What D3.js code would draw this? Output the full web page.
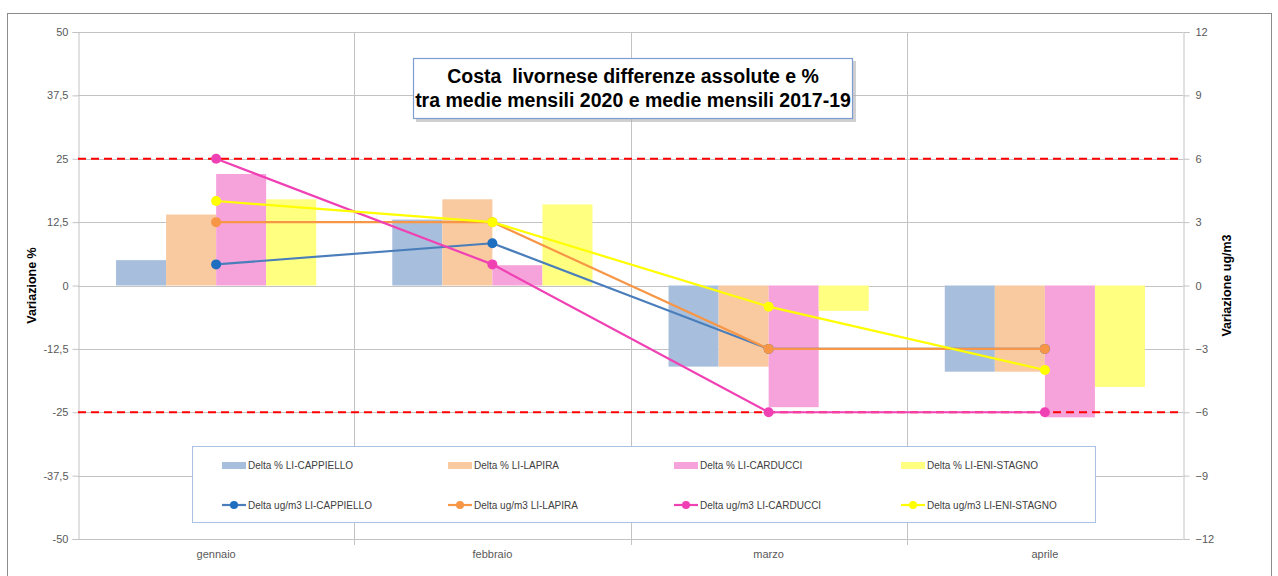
<!DOCTYPE html>
<html><head><meta charset="utf-8">
<script src="https://cdnjs.cloudflare.com/ajax/libs/d3/7.8.5/d3.min.js"></script>
<style>
body{margin:0;background:#fff;}
svg{font-family:"Liberation Sans",Arial,sans-serif;}
</style></head>
<body><svg id="c" width="1278" height="576"></svg>
<script>
const months = ["gennaio","febbraio","marzo","aprile"];
const stations = ["LI-CAPPIELLO","LI-LAPIRA","LI-CARDUCCI","LI-ENI-STAGNO"];
// Delta % (left axis)
const pctCappiello = [5, 13, -16, -17];
const pctLapira    = [14, 17, -16, -17];
const pctCarducci  = [22, 4, -24, -26];
const pctEni       = [17, 16, -5, -20];
// Delta ug/m3 (right axis)
const ugCappiello = [1, 2, -3, -3];
const ugLapira    = [3, 3, -3, -3];
const ugCarducci  = [6, 1, -6, -6];
const ugEni       = [4, 3, -1, -4];
const leftTicks  = [-50,-37.5,-25,-12.5,0,12.5,25,37.5,50];
const rightTicks = [-12,-9,-6,-3,0,3,6,9,12];
const thresholds = [25,-25];
const titleLines = ["Costa  livornese differenze assolute e %","tra medie mensili 2020 e medie mensili 2017-19"];

const pctSeries = [pctCappiello,pctLapira,pctCarducci,pctEni];
const ugSeries = [ugCappiello,ugLapira,ugCarducci,ugEni];
const barColors = ["#a7bfdc","#f9c9a0","#f7a3db","#ffff80"];
const lineColors = ["#4a7ebb","#f79646","#f041b4","#ffff00"];
const markColors = ["#1f6fc0","#f79646","#f041b4","#ffff00"];

const svg = d3.select("#c");
const L=78, R=1183, T=32, B=539;
svg.append("rect").attr("x",7.5).attr("y",13.5).attr("width",1264).attr("height",600)
  .attr("fill","#fff").attr("stroke","#8c8c8c").attr("stroke-width",1);

const x0 = d3.scaleBand().domain(months).range([L,R]).paddingInner(0).paddingOuter(0);
const x1 = d3.scaleBand().domain(stations).range([0,x0.bandwidth()]).paddingInner(0).paddingOuter(0.76);
const yL = d3.scaleLinear().domain([-50,50]).range([B,T]);
const yR = d3.scaleLinear().domain([-12,12]).range([B,T]);

// horizontal gridlines
svg.append("g").selectAll("line").data(leftTicks).join("line")
  .attr("x1",L).attr("x2",R).attr("y1",d=>Math.round(yL(d))+0.5).attr("y2",d=>Math.round(yL(d))+0.5)
  .attr("stroke","#c3c3c3").attr("stroke-width",1);
// vertical gridlines at category boundaries
svg.append("g").selectAll("line").data(months.slice(1)).join("line")
  .attr("x1",d=>Math.round(x0(d))+0.5).attr("x2",d=>Math.round(x0(d))+0.5)
  .attr("y1",T).attr("y2",B+6).attr("stroke","#c3c3c3");

// bars
pctSeries.forEach((vals,si)=>{
  svg.append("g").selectAll("rect").data(vals).join("rect")
    .attr("x",(d,i)=>x0(months[i])+x1(stations[si]))
    .attr("width",x1.bandwidth())
    .attr("y",d=>yL(Math.max(0,d)))
    .attr("height",d=>Math.abs(yL(d)-yL(0)))
    .attr("fill",barColors[si]);
});

// axes
const axL = d3.axisLeft(yL).tickValues(leftTicks).tickSize(6).tickPadding(4)
  .tickFormat(d=>String(d).replace(".",","));
const gL = svg.append("g").attr("transform",`translate(${L+0.5},0)`).call(axL);
const axR = d3.axisRight(yR).tickValues(rightTicks).tickSize(6).tickPadding(6);
const gR = svg.append("g").attr("transform",`translate(${R+0.5},0)`).call(axR);
const axB = d3.axisBottom(x0).tickSize(0).tickPadding(11);
const gB = svg.append("g").attr("transform",`translate(0,${B})`).call(axB);
gB.select(".domain").remove();
[gL,gR].forEach(g=>{
  g.select(".domain").attr("stroke","#c3c3c3");
  g.selectAll(".tick line").attr("stroke","#c3c3c3");
});
[gL,gR,gB].forEach(g=>g.selectAll("text").attr("fill","#595959").attr("font-size",11).attr("font-family","Liberation Sans, Arial, sans-serif"));
gB.selectAll("text").attr("font-size",11);

// threshold lines
svg.append("g").selectAll("line").data(thresholds).join("line")
  .attr("x1",L).attr("x2",R).attr("y1",d=>yL(d)).attr("y2",d=>yL(d))
  .attr("stroke","#ff0000").attr("stroke-width",2).attr("stroke-dasharray","8,5");

// lines
const cx = m => x0(m)+x0.bandwidth()/2;
ugSeries.forEach((vals,si)=>{
  const line = d3.line().x((d,i)=>cx(months[i])).y(d=>yR(d));
  svg.append("path").datum(vals).attr("d",line).attr("fill","none")
    .attr("stroke",lineColors[si]).attr("stroke-width",2.2);
  svg.append("g").selectAll("circle").data(vals).join("circle")
    .attr("cx",(d,i)=>cx(months[i])).attr("cy",d=>yR(d)).attr("r",5)
    .attr("fill",markColors[si]);
});

// axis titles
svg.append("text").attr("transform",`translate(36,${(T+B)/2}) rotate(-90)`)
  .attr("text-anchor","middle").attr("font-size",12.5).attr("font-weight","bold").attr("fill","#000").text("Variazione %");
svg.append("text").attr("transform",`translate(1231,${(T+B)/2}) rotate(-90)`)
  .attr("text-anchor","middle").attr("font-size",12.5).attr("font-weight","bold").attr("fill","#000").text("Variazione ug/m3");

// title box
svg.append("rect").attr("x",416).attr("y",61).attr("width",440).attr("height",61).attr("fill","#b0b0b0").attr("opacity",0.6);
svg.append("rect").attr("x",413.5).attr("y",58.5).attr("width",439).attr("height",60)
  .attr("fill","#fff").attr("stroke","#7d9dd0").attr("stroke-width",1.2);
svg.append("g").selectAll("text").data(titleLines).join("text")
  .attr("x",633).attr("y",(d,i)=>83+i*24).attr("text-anchor","middle")
  .style("white-space","pre")
  .attr("font-size",19.5).attr("font-weight","bold").attr("fill","#000").text(d=>d);

// legend
const lg = svg.append("g");
lg.append("rect").attr("x",192.5).attr("y",446.5).attr("width",903).attr("height",76)
  .attr("fill","#fff").attr("stroke","#a9c1e2");
const colX = [222,448,674,901];
stations.forEach((s,i)=>{
  lg.append("rect").attr("x",colX[i]).attr("y",462).attr("width",24).attr("height",7).attr("fill",barColors[i]);
  lg.append("text").attr("x",colX[i]+26).attr("y",469).attr("font-size",10).attr("fill","#404040").text("Delta % "+s);
  lg.append("line").attr("x1",colX[i]).attr("x2",colX[i]+24).attr("y1",505).attr("y2",505)
    .attr("stroke",lineColors[i]).attr("stroke-width",2.2);
  lg.append("circle").attr("cx",colX[i]+12).attr("cy",505).attr("r",4).attr("fill",markColors[i]);
  lg.append("text").attr("x",colX[i]+26).attr("y",509).attr("font-size",10).attr("fill","#404040").text("Delta ug/m3 "+s);
});
</script></body></html>
